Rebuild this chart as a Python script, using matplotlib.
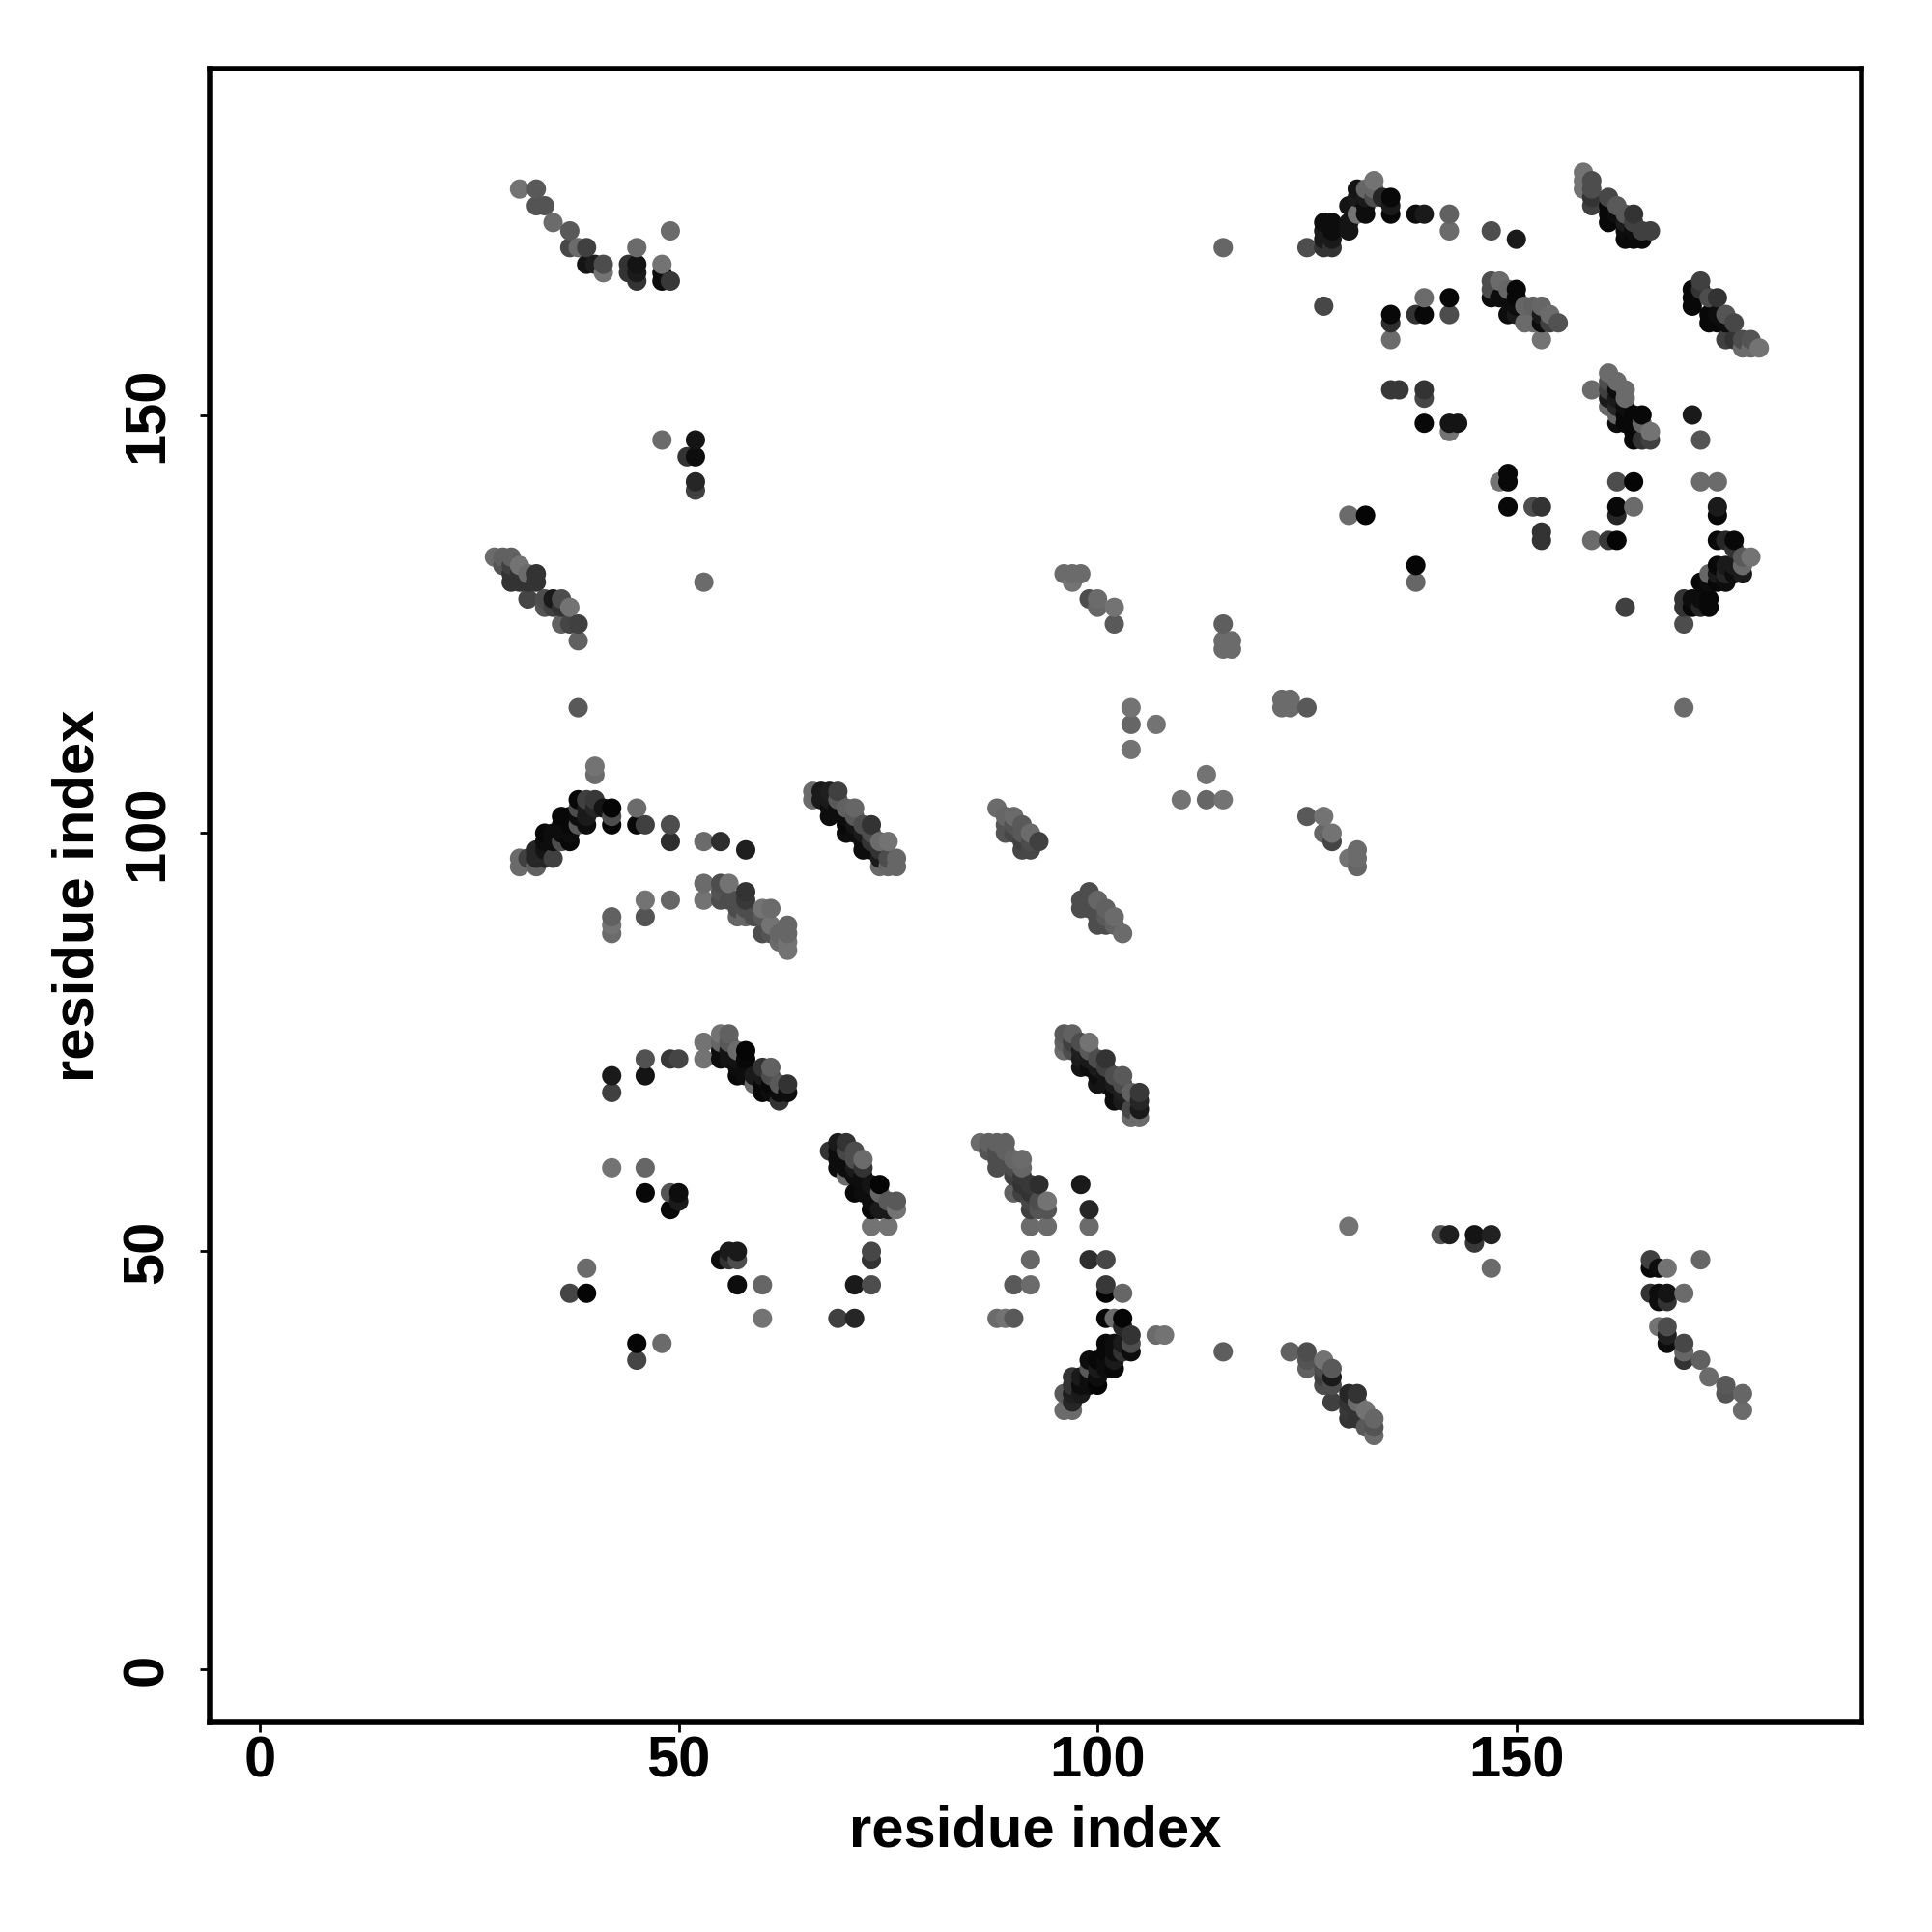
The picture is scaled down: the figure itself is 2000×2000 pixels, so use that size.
"""
Residue contact map, each contact shaded by its strength (0 = black).
"""

import numpy as np
import matplotlib
matplotlib.use("Agg")
import matplotlib.pyplot as plt

TICKS = [0, 50, 100, 150]
LABEL = "residue index"

# (residue i, residue j, grey level), one list per patch of the map
top_left = [
    (31,177,.45),(33,177,.35),(33,175,.33),(34,175,.33),(35,173,.42),(37,172,.35),(37,170,.28),(38,170,.42),
    (39,170,.25),(39,168,.08),(40,168,.12),(41,168,.3),(41,167,.45),(44,168,.2),(44,167,.2),(45,170,.42),
    (45,168,.08),(45,167,.1),(45,166,.2),(48,168,.45),(48,167,.05),(48,166,.05),(49,166,.22),(49,172,.42),
]
top_right_arc = [
    (125,170,.3),(127,170,.2),(128,170,.2),(127,173,.05),(128,173,.05),(127,172,.1),(128,172,.05),(127,171,.1),
    (128,171,.1),(130,172,.08),(130,173,.08),(130,175,.08),(131,174,.45),(131,177,.08),(131,176,.1),(132,174,.05),
    (132,175,.05),(132,177,.4),(132,176,.1),(133,178,.45),(133,177,.4),(133,176,.3),(134,176,.15),(135,176,.03),
    (135,175,.1),(135,174,.03),(138,174,.05),(139,174,.1),(142,174,.38),(142,172,.42),(147,172,.3),(150,171,.1),
    (115,170,.4),
]
top_right_diag = [
    (158,179,.45),(158,177,.45),(158,178,.45),(159,178,.3),(159,177,.3),(159,176,.2),(159,175,.25),(161,176,.28),
    (162,175,.35),(161,175,.03),(161,174,.03),(161,173,.03),(162,174,.05),(163,174,.35),(164,174,.2),(163,173,.1),
    (164,173,.25),(165,172,.25),(166,172,.25),(163,171,.03),(164,171,.03),(165,171,.03),(163,172,.05),(164,172,.05),
    (172,166,.25),(171,165,.03),(171,164,.03),(171,163,.03),(172,165,.2),(173,164,.3),(174,164,.2),(175,162,.33),
    (176,161,.28),(173,161,.03),(174,161,.03),(175,161,.05),(173,162,.03),(174,162,.05),(175,159,.25),(176,159,.2),
    (177,159,.3),(178,159,.33),(177,158,.42),(178,158,.42),(179,158,.45),
]
upper_middle = [
    (127,163,.28),(135,162,.03),(135,161,.18),(135,159,.42),(138,162,.2),(139,162,.03),(139,164,.42),(142,164,.03),
    (142,162,.3),(147,166,.3),(148,166,.42),(147,165,.3),(147,164,.05),(149,165,.4),(150,165,.03),(150,164,.03),
    (148,164,.05),(149,164,.05),(149,162,.05),(150,163,.05),(151,163,.4),(152,163,.38),(153,163,.4),(154,162,.42),
    (155,161,.32),(150,162,.1),(151,161,.42),(152,161,.42),(153,161,.05),(154,161,.25),(153,159,.45),(153,162,.1),
]
right_cluster = [
    (135,153,.22),(136,153,.22),(139,153,.2),(139,152,.28),(139,149,.03),(142,149,.08),(143,149,.08),(142,148,.45),
    (159,153,.42),(161,155,.42),(161,154,.3),(161,153,.25),(161,152,.1),(161,151,.42),(162,154,.42),(162,153,.05),
    (162,152,.1),(162,151,.15),(162,150,.4),(162,149,.05),(163,153,.42),(163,152,.42),(163,151,.05),(163,150,.03),
    (163,149,.03),(164,150,.03),(164,149,.03),(164,148,.03),(164,147,.03),(165,150,.03),(165,149,.4),(165,147,.2),
    (166,148,.45),(166,147,.25),(171,150,.1),(172,147,.33),(149,143,.03),(149,142,.03),(148,142,.45),(149,139,.03),
    (152,139,.3),(153,139,.2),(153,136,.2),(153,135,.2),(162,142,.3),(164,142,.02),(172,142,.42),(174,142,.42),
    (162,139,.03),(162,138,.15),(164,139,.42),(174,139,.1),(174,138,.03),(159,135,.42),(161,135,.22),(162,135,.02),
    (174,135,.03),(175,135,.15),(176,135,.03),(178,133,.45),(177,133,.35),(176,134,.2),(177,132,.42),(174,132,.03),
    (175,132,.1),(176,132,.1),(177,131,.1),(174,131,.1),(175,131,.15),(176,131,.05),(173,131,.4),(172,130,.03),
    (173,130,.05),(174,130,.03),(175,130,.05),(170,128,.2),(171,128,.05),(172,128,.05),(173,128,.03),(170,127,.2),
    (171,127,.03),(172,127,.15),(173,127,.03),(163,127,.25),(170,125,.3),(130,138,.42),(132,138,.02),(138,132,.02),
    (138,130,.4),
]
left_middle = [
    (28,133,.42),(29,133,.38),(30,133,.38),(29,132,.33),(30,132,.25),(31,132,.45),(30,131,.2),(31,131,.2),
    (30,130,.2),(31,130,.2),(32,131,.42),(33,131,.2),(33,130,.2),(32,130,.2),(32,128,.27),(34,128,.3),
    (34,127,.33),(35,128,.1),(35,127,.25),(36,128,.3),(36,127,.2),(37,127,.45),(36,125,.38),(37,125,.27),
    (38,125,.25),(38,123,.38),(38,115,.35),(53,130,.42),(48,147,.42),(52,147,.08),(51,145,.2),(52,145,.05),
    (52,142,.15),(52,141,.25),
]
center_scatter = [
    (96,131,.42),(97,131,.42),(98,131,.42),(97,130,.45),(99,128,.3),(100,128,.42),(100,127,.4),(102,127,.45),
    (102,125,.35),(115,125,.37),(115,123,.42),(116,123,.42),(115,122,.42),(116,122,.42),(122,116,.42),(123,116,.42),
    (122,115,.42),(123,115,.42),(125,115,.35),(104,115,.45),(104,113,.4),(107,113,.45),(104,110,.45),(113,107,.45),
    (110,104,.45),(113,104,.4),(115,104,.45),(125,102,.35),(127,102,.45),(127,100,.4),(128,100,.45),(128,99,.27),
    (131,98,.42),(130,97,.45),(131,97,.42),(131,96,.4),(170,115,.42),
]
arc_100 = [
    (40,108,.45),(40,107,.42),(31,97,.42),(31,96,.42),(32,97,.25),(33,96,.38),(33,97,.15),(33,98,.15),
    (34,97,.15),(34,98,.08),(35,97,.25),(34,100,.03),(34,99,.05),(35,100,.05),(35,99,.05),(36,99,.3),
    (37,99,.03),(36,100,.05),(36,102,.03),(37,102,.03),(37,101,.03),(37,100,.05),(36,101,.05),(38,101,.35),
    (38,104,.03),(38,103,.3),(38,102,.05),(39,104,.25),(40,104,.22),(39,103,.1),(39,101,.05),(39,102,.1),
    (40,103,.15),(41,103,.08),(42,103,.02),(42,102,.3),(42,101,.02),(45,103,.42),(45,101,.03),(46,101,.25),
    (49,101,.3),(49,99,.18),(53,99,.42),(55,99,.18),(58,98,.12),
]
diag_90 = [
    (53,94,.42),(53,92,.45),(55,94,.3),(56,94,.45),(55,93,.33),(55,92,.3),(56,92,.3),(57,92,.3),
    (58,93,.2),(58,92,.22),(57,91,.3),(58,91,.3),(57,90,.4),(58,90,.4),(60,91,.45),(61,91,.42),
    (59,90,.3),(60,90,.35),(61,89,.45),(60,88,.3),(61,88,.33),(62,88,.4),(62,87,.42),(63,89,.4),
    (63,88,.4),(63,87,.45),(63,86,.45),(42,90,.38),(42,89,.45),(42,88,.42),(46,92,.45),(46,90,.33),
    (49,92,.4),
]
diag_100 = [
    (66,105,.42),(66,104,.42),(67,105,.1),(68,105,.12),(69,105,.25),(67,104,.1),(68,104,.1),(68,103,.05),
    (68,102,.05),(69,104,.35),(69,103,.05),(70,103,.38),(71,103,.4),(70,102,.05),(71,102,.35),(70,101,.03),
    (70,100,.05),(71,101,.08),(71,100,.05),(72,101,.3),(73,101,.2),(72,100,.1),(72,99,.05),(72,98,.05),
    (73,100,.3),(73,99,.2),(73,98,.05),(74,99,.42),(75,99,.45),(74,98,.2),(74,97,.1),(75,97,.3),
    (76,97,.4),(74,96,.42),(75,96,.4),(76,96,.4),
]
small_diags = [
    (88,103,.42),(89,102,.4),(90,102,.42),(89,101,.33),(89,100,.33),(90,101,.33),(91,101,.35),(90,100,.28),
    (91,100,.35),(91,99,.25),(92,100,.42),(92,99,.3),(93,99,.25),(91,98,.28),(92,98,.28),(99,93,.3),
    (98,92,.3),(98,91,.3),(100,92,.4),(99,92,.3),(99,91,.3),(100,91,.3),(101,91,.38),(100,90,.3),
    (101,90,.35),(102,90,.42),(100,89,.3),(101,89,.3),(102,89,.38),(103,88,.42),
]
arc_70 = [
    (42,71,.1),(42,69,.25),(46,73,.32),(46,71,.08),(49,73,.22),(50,73,.27),(53,75,.45),(53,73,.45),
    (55,76,.45),(56,76,.38),(55,75,.4),(56,75,.35),(55,74,.05),(55,73,.05),(56,74,.08),(56,73,.08),
    (57,74,.42),(58,74,.02),(57,73,.08),(58,73,.03),(57,72,.05),(58,72,.05),(57,71,.03),(59,71,.1),
    (58,71,.05),(59,70,.42),(60,72,.2),(61,72,.38),(60,71,.1),(61,71,.3),(60,70,.03),(60,69,.03),
    (61,70,.03),(61,69,.05),(62,70,.35),(63,70,.2),(62,69,.05),(63,69,.05),(62,68,.2),
]
diag_60 = [
    (42,60,.45),(46,60,.4),(46,57,.03),(49,57,.33),(50,57,.05),(50,56,.1),(49,55,.03),(68,62,.2),
    (69,63,.1),(70,63,.2),(69,62,.05),(70,62,.28),(69,61,.05),(69,60,.05),(71,62,.3),(72,61,.42),
    (70,61,.05),(71,61,.3),(70,60,.05),(70,59,.42),(71,60,.1),(71,59,.05),(72,60,.2),(72,59,.05),
    (71,57,.03),(72,58,.05),(72,57,.05),(73,58,.08),(73,57,.05),(74,58,.02),(74,57,.4),(73,55,.03),
    (73,56,.05),(74,55,.1),(75,56,.35),(76,56,.35),(75,55,.1),(76,55,.45),(73,53,.45),(75,53,.45),
]
diag_70 = [
    (96,76,.35),(97,76,.38),(96,75,.38),(96,74,.42),(97,75,.25),(97,74,.3),(98,75,.3),(99,75,.45),
    (98,74,.12),(98,73,.1),(98,72,.08),(99,74,.35),(99,73,.1),(99,72,.05),(100,73,.3),(101,73,.2),
    (100,72,.1),(100,71,.05),(100,70,.08),(101,72,.25),(101,71,.08),(101,70,.08),(102,71,.3),(103,71,.35),
    (102,70,.1),(102,69,.05),(102,68,.05),(103,70,.3),(103,69,.12),(103,68,.1),(104,69,.38),(105,69,.22),
    (104,67,.28),(105,68,.15),(105,67,.1),(104,66,.42),(105,66,.42),
]
diag_58 = [
    (86,63,.42),(87,63,.38),(88,63,.38),(89,63,.38),(87,62,.33),(88,62,.3),(89,62,.38),(88,61,.3),
    (89,61,.3),(88,60,.3),(90,61,.4),(91,61,.42),(91,60,.4),(90,60,.3),(90,59,.25),(91,59,.22),
    (92,58,.22),(91,58,.2),(93,58,.18),(90,57,.38),(91,57,.25),(92,57,.2),(92,56,.28),(93,56,.3),
    (94,56,.45),(92,55,.25),(93,55,.33),(94,55,.33),(92,53,.42),(94,53,.42),(98,58,.1),(99,55,.15),
    (99,53,.42),
]
lower_left = [
    (39,48,.42),(37,45,.27),(39,45,.02),(55,49,.05),(56,50,.1),(57,50,.1),(56,49,.2),(57,49,.3),
    (57,46,.05),(60,46,.4),(60,42,.45),(45,39,.02),(48,39,.42),(45,37,.27),(73,50,.28),(73,49,.2),
    (73,46,.3),(71,46,.1),(69,42,.25),(71,42,.15),(90,46,.35),(88,42,.42),(89,42,.45),(90,42,.35),
    (92,49,.4),(92,46,.42),
]
arc_40 = [
    (99,49,.18),(101,49,.28),(101,46,.22),(101,45,.02),(103,45,.4),(101,42,.03),(102,42,.42),(103,42,.02),
    (103,41,.15),(104,40,.2),(104,39,.3),(104,38,.05),(107,40,.42),(108,40,.45),(101,39,.03),(102,39,.05),
    (102,38,.05),(103,39,.1),(103,38,.2),(102,37,.1),(102,36,.03),(101,38,.03),(101,37,.05),(99,37,.05),
    (100,37,.03),(100,36,.1),(101,36,.05),(99,36,.35),(99,35,.05),(100,35,.05),(100,34,.02),(98,35,.1),
    (97,35,.2),(97,34,.2),(98,34,.05),(99,34,.05),(98,33,.1),(97,33,.12),(96,33,.35),(97,32,.15),
    (96,31,.42),(97,31,.42),(115,38,.37),
]
diag_30 = [
    (123,38,.38),(125,38,.3),(125,37,.33),(125,36,.38),(127,37,.45),(128,36,.35),(127,36,.3),(127,35,.25),
    (128,35,.1),(127,34,.3),(128,34,.3),(128,32,.25),(130,33,.15),(131,33,.2),(130,32,.2),(131,32,.42),
    (130,31,.22),(130,30,.2),(132,31,.45),(131,30,.2),(132,29,.35),(133,30,.4),(133,29,.33),(133,28,.42),
    (130,53,.45),(141,52,.32),(142,52,.12),(145,52,.08),(145,51,.22),(147,52,.13),(147,48,.42),
]
bottom_right = [
    (166,49,.25),(166,48,.03),(167,48,.05),(168,48,.45),(172,49,.4),(166,45,.2),(167,45,.05),(168,45,.08),
    (170,45,.42),(167,44,.05),(168,44,.2),(167,41,.45),(168,41,.3),(168,40,.12),(168,39,.05),(170,39,.28),
    (170,38,.4),(170,37,.2),(172,37,.38),(173,35,.42),(175,34,.35),(175,33,.33),(177,33,.4),(177,31,.42),
]

plt.rcParams["font.family"] = ["Liberation Sans", "DejaVu Sans"]
plt.rcParams["font.weight"] = "bold"

contacts = np.array(
    top_left + top_right_arc + top_right_diag + upper_middle + right_cluster + left_middle
    + center_scatter + arc_100 + diag_90 + diag_100 + small_diags + arc_70 + diag_60
    + diag_70 + diag_58 + lower_left + arc_40 + diag_30 + bottom_right
)
# later residues are painted over earlier ones
contacts = contacts[np.lexsort((contacts[:, 1], contacts[:, 0]))]
greys = [str(g) for g in contacts[:, 2]]

fig = plt.figure(figsize=(10, 10), dpi=200)
ax = fig.add_axes([217 / 2000, 1 - 1783 / 2000, 1710 / 2000, 1712 / 2000])
ax.scatter(contacts[:, 0], contacts[:, 1], s=52, c=greys, linewidths=0, clip_on=True)

ax.set_xlim(-6.0, 191.2)
ax.set_ylim(-6.3, 191.4)
ax.set_xticks(TICKS)
ax.set_yticks(TICKS)
ax.tick_params(axis="both", length=3.5, width=1.0, labelsize=21.5, pad=1.5)
ax.tick_params(axis="y", pad=9.7)
plt.setp(ax.get_yticklabels(), rotation=90, va="center")
for spine in ax.spines.values():
    spine.set_linewidth(2.0)

ax.set_xlabel(LABEL, fontsize=21.5, fontweight="bold", labelpad=5.8)
ax.set_ylabel(LABEL, fontsize=21.5, fontweight="bold", labelpad=6)

fig.savefig("out.png", dpi=200)
plt.close()
